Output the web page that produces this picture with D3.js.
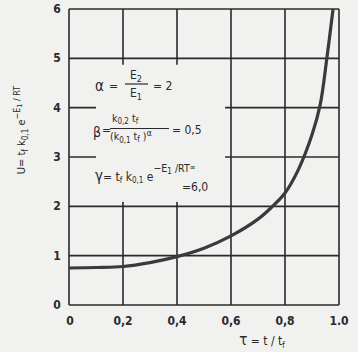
<!DOCTYPE html>
<html>
<head>
<meta charset="utf-8">
<script src="https://cdn.jsdelivr.net/npm/d3@7"></script>
<style>
  body { margin: 0; background: #f1f1ef; }
  svg { display: block; }
  text { font-family: "DejaVu Sans Condensed", "DejaVu Sans", sans-serif; fill: #2a2a2a; }
</style>
</head>
<body>
<div id="chart"></div>
<script>
// curve
const tauValues = [0, 0.1, 0.2, 0.3, 0.4, 0.5, 0.6, 0.7, 0.75, 0.8, 0.85, 0.9, 0.93, 0.955, 0.978];
const uValues = [0.75, 0.76, 0.78, 0.86, 0.98, 1.15, 1.40, 1.74, 1.98, 2.27, 2.75, 3.45, 4.05, 5.0, 6.0];
const xTicks = [0, 0.2, 0.4, 0.6, 0.8, 1.0];
const xTickLabels = ["0", "0,2", "0,4", "0,6", "0,8", "1.0"];
const yTicks = [0, 1, 2, 3, 4, 5, 6];

const width = 358, height = 352;
const ink = "#2a2a2a";

const svg = d3.select("#chart").append("svg")
    .attr("width", width)
    .attr("height", height);

const x = d3.scaleLinear().domain([0, 1]).range([69, 339]);
const y = d3.scaleLinear().domain([0, 6]).range([305, 9]);

// grid
const grid = svg.append("g").attr("stroke", ink).attr("stroke-width", 1.6);
grid.selectAll(".v").data(xTicks).enter().append("line")
    .attr("x1", d => x(d)).attr("x2", d => x(d))
    .attr("y1", y(0)).attr("y2", y(6));
grid.selectAll(".h").data(yTicks).enter().append("line")
    .attr("x1", x(0)).attr("x2", x(1))
    .attr("y1", d => y(d)).attr("y2", d => y(d));

// blank area behind the parameter text
svg.append("rect")
    .attr("x", x(0.1)).attr("y", y(4.87))
    .attr("width", x(0.578) - x(0.1))
    .attr("height", y(2.09) - y(4.87))
    .attr("fill", "#f1f1ef");

// curve
const line = d3.line()
    .x((d, i) => x(tauValues[i]))
    .y(d => y(d))
    .curve(d3.curveCatmullRom.alpha(0.5));
svg.append("path")
    .datum(uValues)
    .attr("d", line)
    .attr("fill", "none")
    .attr("stroke", "#3a3a3a")
    .attr("stroke-width", 3.2);

// tick labels
svg.selectAll(".yl").data(yTicks).enter().append("text")
    .attr("x", 57).attr("y", d => y(d) + 4)
    .attr("text-anchor", "middle")
    .attr("font-size", 12).attr("font-weight", "bold")
    .text(d => d);
svg.selectAll(".xl").data(xTicks).enter().append("text")
    .attr("x", (d, i) => x(d) + (i === 0 ? 1 : 0)).attr("y", 325)
    .attr("text-anchor", "middle")
    .attr("font-size", 12).attr("font-weight", "bold")
    .text((d, i) => xTickLabels[i]);

// x axis title
const xt = svg.append("text").attr("x", 262).attr("y", 345)
    .attr("text-anchor", "middle").attr("font-size", 12);
xt.append("tspan").attr("font-size", 15).text("τ");
xt.append("tspan").text(" = t / t");
xt.append("tspan").attr("font-size", 8).attr("dy", 3).text("f");

// y axis title
const yt = svg.append("text")
    .attr("transform", "translate(25,130) rotate(-90)")
    .attr("text-anchor", "middle").attr("font-size", 11);
yt.append("tspan").text("U= t");
yt.append("tspan").attr("font-size", 8).attr("dy", 3).text("f");
yt.append("tspan").attr("dy", -3).text(" k");
yt.append("tspan").attr("font-size", 8).attr("dy", 3).text("0,1");
yt.append("tspan").attr("dy", -3).text(" e");
yt.append("tspan").attr("font-size", 9).attr("dy", -5).text("−E");
yt.append("tspan").attr("font-size", 7).attr("dy", 2).text("1");
yt.append("tspan").attr("font-size", 9).attr("dy", -2).text(" / RT");

// parameters
const fs = 12;
// alpha
svg.append("text").attr("x", 95).attr("y", 91).attr("font-size", 15).text("α");
svg.append("text").attr("x", 109).attr("y", 90).attr("font-size", fs).text("=");
const a1 = svg.append("text").attr("x", 136).attr("y", 79).attr("text-anchor", "middle").attr("font-size", fs);
a1.append("tspan").text("E");
a1.append("tspan").attr("font-size", 9).attr("dy", 3).text("2");
svg.append("line").attr("x1", 125).attr("x2", 148).attr("y1", 84).attr("y2", 84)
    .attr("stroke", ink).attr("stroke-width", 1.2);
const a2 = svg.append("text").attr("x", 136).attr("y", 97).attr("text-anchor", "middle").attr("font-size", fs);
a2.append("tspan").text("E");
a2.append("tspan").attr("font-size", 9).attr("dy", 3).text("1");
svg.append("text").attr("x", 153).attr("y", 90).attr("font-size", fs).text("=  2");

// beta
svg.append("text").attr("x", 93).attr("y", 137).attr("font-size", 14).text("β");
svg.append("text").attr("x", 102).attr("y", 134).attr("font-size", fs).text("=");
const b1 = svg.append("text").attr("x", 112).attr("y", 122).attr("font-size", 10.5);
b1.append("tspan").text("k");
b1.append("tspan").attr("font-size", 8).attr("dy", 2).text("0,2");
b1.append("tspan").attr("dy", -2).text("    t");
b1.append("tspan").attr("font-size", 8).attr("dy", 2).text("f");
svg.append("line").attr("x1", 110).attr("x2", 169).attr("y1", 128.5).attr("y2", 128.5)
    .attr("stroke", ink).attr("stroke-width", 1.2);
const b2 = svg.append("text").attr("x", 110).attr("y", 140).attr("font-size", 10.5);
b2.append("tspan").text("(k");
b2.append("tspan").attr("font-size", 8).attr("dy", 3).text("0,1");
b2.append("tspan").attr("dy", -3).text(" t");
b2.append("tspan").attr("font-size", 8).attr("dy", 2).text("f");
b2.append("tspan").attr("dy", -2).text(" )");
b2.append("tspan").attr("font-size", 9).attr("dy", -4).text("α");
svg.append("text").attr("x", 172).attr("y", 134).attr("font-size", fs).text("= 0,5");

// gamma
const g = svg.append("text").attr("x", 95).attr("y", 181).attr("font-size", fs);
g.append("tspan").attr("font-size", 15).text("γ");
g.append("tspan").text("= t");
g.append("tspan").attr("font-size", 8).attr("dy", 2).text("f");
g.append("tspan").attr("dy", -2).text("  k");
g.append("tspan").attr("font-size", 8).attr("dy", 2).text("0,1");
g.append("tspan").attr("dy", -2).text(" e");
g.append("tspan").attr("font-size", 10.5).attr("dy", -9).text("−E");
g.append("tspan").attr("font-size", 8).attr("dy", 2).text("1");
g.append("tspan").attr("font-size", 10.5).attr("dy", -2).text(" /RT");
g.append("tspan").attr("font-size", 8).attr("dy", -2).text("∞");
svg.append("text").attr("x", 182).attr("y", 191).attr("font-size", fs).text("=6,0");
</script>
</body>
</html>
